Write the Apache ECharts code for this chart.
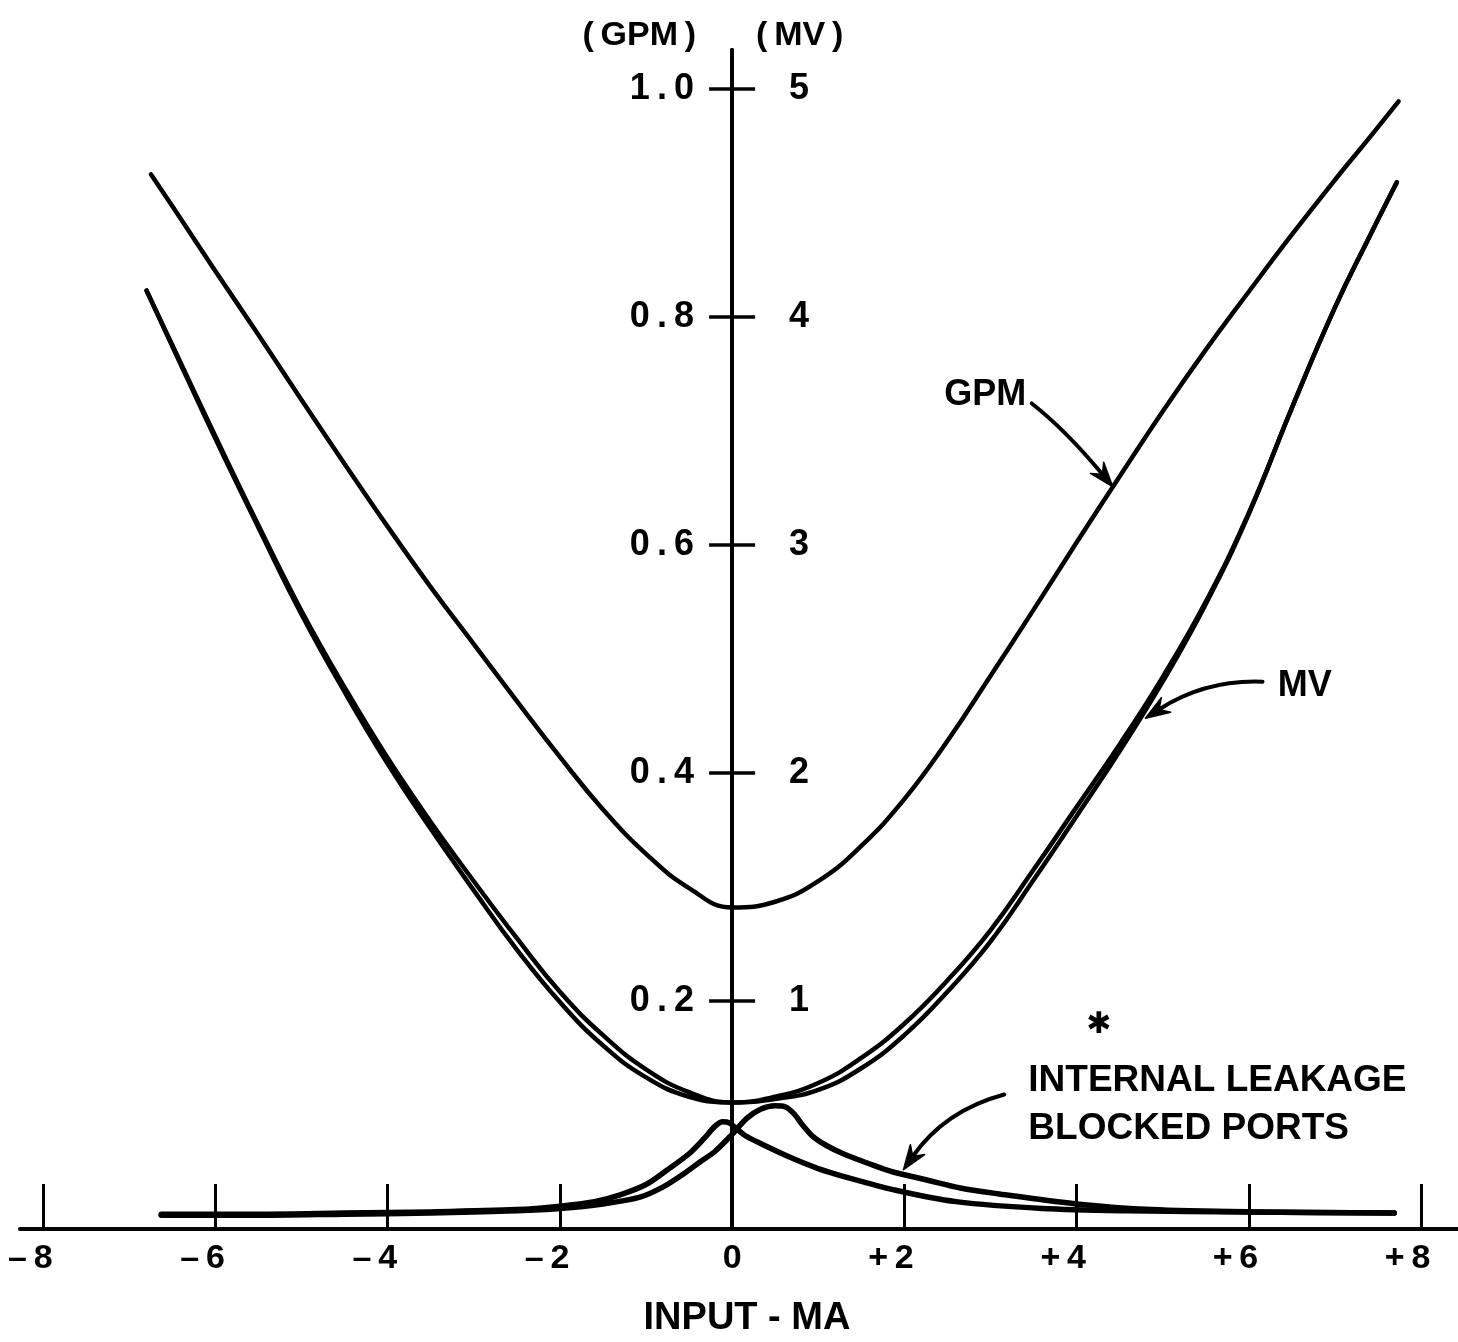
<!DOCTYPE html>
<html>
<head>
<meta charset="utf-8">
<script src="https://cdn.jsdelivr.net/npm/echarts@6/dist/echarts.min.js"></script>
<style>
  html, body { margin: 0; padding: 0; background: #ffffff; }
  #chart { width: 1458px; height: 1342px; }
</style>
</head>
<body>
<div id="chart"></div>
<script>
// ---------------- data ----------------
const xTicks   = [-8, -6, -4, -2, 0, 2, 4, 6, 8];          // INPUT - MA
const gpmTicks = [0.2, 0.4, 0.6, 0.8, 1.0];                // left scale (GPM)
const mvTicks  = [1, 2, 3, 4, 5];                          // right scale (MV)

// GPM curve (GPM)
const gpmX = [-6.75, -6.5, -6.0, -5.5, -5.0, -4.5, -4.0, -3.5, -3.0, -2.5, -2.0, -1.5, -1.0, -0.5, 0, 0.5, 1.0, 1.5, 2.0, 2.5, 3.0, 3.5, 4.0, 4.5, 5.0, 5.5, 6.0, 6.5, 7.0, 7.4, 7.74];
const gpmY = [0.925, 0.897, 0.840, 0.784, 0.727, 0.671, 0.616, 0.563, 0.513, 0.463, 0.414, 0.368, 0.329, 0.299, 0.282, 0.287, 0.305, 0.336, 0.377, 0.428, 0.485, 0.543, 0.602, 0.660, 0.717, 0.771, 0.822, 0.872, 0.920, 0.957, 0.989];

// MV curve (MV) - drawn as two close traces
const mvX = [-6.8, -6.5, -6.0, -5.5, -5.0, -4.5, -4.0, -3.5, -3.0, -2.5, -2.0, -1.5, -1.0, -0.5, 0, 0.5, 1.0, 1.5, 2.0, 2.5, 3.0, 3.5, 4.0, 4.5, 5.0, 5.5, 6.0, 6.5, 7.0, 7.4, 7.72];
const mvUpper = [4.115, 3.875, 3.475, 3.085, 2.71, 2.375, 2.065, 1.785, 1.525, 1.275, 1.04, 0.85, 0.70, 0.60, 0.555, 0.58, 0.64, 0.75, 0.90, 1.09, 1.31, 1.575, 1.85, 2.125, 2.42, 2.75, 3.14, 3.60, 4.04, 4.35, 4.59];
const mvLower = [4.115, 3.87, 3.465, 3.075, 2.695, 2.355, 2.04, 1.755, 1.485, 1.225, 0.995, 0.805, 0.665, 0.58, 0.555, 0.57, 0.61, 0.705, 0.85, 1.04, 1.26, 1.53, 1.81, 2.095, 2.40, 2.74, 3.135, 3.60, 4.04, 4.35, 4.59];

// Internal leakage, blocked ports (GPM) - two traces
const leakAX = [-6.63, -5.5, -4.5, -3.5, -2.5, -2.0, -1.6, -1.3, -1.0, -0.75, -0.5, -0.33, -0.2, -0.11, -0.03, 0.05, 0.15, 0.33, 0.7, 1.0, 1.3, 1.9, 2.6, 3.6, 4.6, 6.0, 7.69];
const leakAY = [0.013, 0.013, 0.014, 0.015, 0.017, 0.020, 0.024, 0.030, 0.039, 0.052, 0.066, 0.079, 0.090, 0.094, 0.093, 0.088, 0.082, 0.075, 0.062, 0.053, 0.046, 0.034, 0.024, 0.018, 0.016, 0.015, 0.014];
const leakBX = [-6.63, -5.5, -4.5, -3.5, -2.5, -2.0, -1.5, -1.07, -0.8, -0.57, -0.37, -0.2, 0.0, 0.17, 0.33, 0.5, 0.62, 0.72, 0.82, 0.94, 1.1, 1.29, 1.6, 1.87, 2.26, 2.65, 3.08, 4.0, 4.87, 6.0, 7.69];
const leakBY = [0.012, 0.012, 0.013, 0.014, 0.016, 0.018, 0.022, 0.028, 0.037, 0.048, 0.059, 0.068, 0.083, 0.097, 0.105, 0.108, 0.107, 0.101, 0.091, 0.081, 0.073, 0.066, 0.057, 0.050, 0.043, 0.036, 0.031, 0.022, 0.017, 0.015, 0.014];

// Annotation anchors in data space (x in MA, y in GPM)
const gpmNote  = { label: [2.94, 0.731], start: [3.48, 0.724], ctrl: [3.87, 0.701], tip: [4.42, 0.651] };
const mvNote   = { label: [6.65, 0.476], start: [6.16, 0.480], ctrl: [5.50, 0.482], tip: [4.80, 0.448] };
const leakNote = { star: [4.26, 0.179], line1: [3.44, 0.130], line2: [3.44, 0.088], start: [3.16, 0.118], ctrl: [2.47, 0.104], tip: [1.99, 0.052] };

// ---------------- chart ----------------
const FONT = '"Liberation Sans", Arial, sans-serif';
const INK = '#000000';
const W = 1458;
const GRID = { left: 20, right: 0, top: 50, bottom: 113 };
const zip = (xs, ys) => xs.map((x, i) => [x, ys[i]]);

const chart = echarts.init(document.getElementById('chart'), null, { renderer: 'canvas' });

const lineSeries = (name, data, yIdx, width, smooth) => ({
  name, type: 'line', data, xAxisIndex: 0, yAxisIndex: yIdx,
  smooth: smooth, symbol: 'none', silent: true,
  lineStyle: { color: INK, width: width, cap: 'round', join: 'round' },
  z: 3
});

const labelFont = { fontFamily: FONT, fontWeight: 'bold', fontSize: 34, color: INK };

chart.setOption({
  animation: false,
  backgroundColor: '#ffffff',
  grid: Object.assign({ containLabel: false, outerBoundsMode: 'none' }, GRID),
  xAxis: {
    type: 'value', min: -8.27, max: 8.43,
    axisLine: { onZero: false, lineStyle: { color: INK, width: 4 } },
    axisTick: { inside: true, length: 45, customValues: xTicks, lineStyle: { color: INK, width: 3 } },
    axisLabel: {
      customValues: xTicks, margin: 13,
      formatter: function (v) {
        if (v === 0) return '{d|0}';
        const sign = v < 0 ? '\u2013\u2009' : '+\u2009';
        return '{s|' + sign + '}{d|' + Math.abs(v) + '}{h|' + sign + '}';
      },
      rich: {
        s: Object.assign({}, labelFont),
        d: Object.assign({}, labelFont),
        h: Object.assign({}, labelFont, { color: 'rgba(0,0,0,0)' })
      }
    },
    splitLine: { show: false },
    name: 'INPUT - MA', nameLocation: 'middle', nameGap: 90,
    nameTextStyle: { fontFamily: FONT, fontWeight: 'bold', fontSize: 38, color: INK, verticalAlign: 'middle', padding: [0, 0, 0, 16] }
  },
  yAxis: [
    {
      type: 'value', position: 'left', min: 0, max: 1.034, offset: 0,
      axisLine: { onZero: false, lineStyle: { color: INK, width: 4 } },
      axisTick: { customValues: gpmTicks, length: 23, lineStyle: { color: INK, width: 3.5 } },
      axisLabel: {
        customValues: gpmTicks, margin: 38,
        formatter: v => { const s = v.toFixed(1); return s[0] + '\u2009.\u2009' + s[2]; },
        fontFamily: FONT, fontWeight: 'bold', fontSize: 36, color: INK
      },
      splitLine: { show: false },
      name: '(\u2009GPM\u2009)', nameLocation: 'end', nameGap: 14,
      nameTextStyle: { fontFamily: FONT, fontWeight: 'bold', fontSize: 34, color: INK, align: 'right', verticalAlign: 'middle', padding: [0, 36, 0, 0] }
    },
    {
      type: 'value', position: 'right', min: 0, max: 5.17, offset: 0,
      axisLine: { onZero: false, lineStyle: { color: INK, width: 4 } },
      axisTick: { customValues: mvTicks, length: 23, lineStyle: { color: INK, width: 3.5 } },
      axisLabel: {
        customValues: mvTicks, margin: 57,
        fontFamily: FONT, fontWeight: 'bold', fontSize: 36, color: INK
      },
      splitLine: { show: false },
      name: '(\u2009MV\u2009)', nameLocation: 'end', nameGap: 14,
      nameTextStyle: { fontFamily: FONT, fontWeight: 'bold', fontSize: 34, color: INK, align: 'left', verticalAlign: 'middle', padding: [0, 0, 0, 24] }
    }
  ],
  series: [
    lineSeries('GPM', zip(gpmX, gpmY), 0, 4.5, 0.45),
    lineSeries('MV', zip(mvX, mvUpper), 1, 4.5, 0.45),
    lineSeries('MV (trace 2)', zip(mvX, mvLower), 1, 4.5, 0.45),
    lineSeries('Internal leakage A', zip(leakAX, leakAY), 0, 5.5, 0.3),
    lineSeries('Internal leakage B', zip(leakBX, leakBY), 0, 5.5, 0.3)
  ]
});

// move both vertical scales onto x = 0 (labels follow the axis line)
const px = p => chart.convertToPixel({ gridIndex: 0 }, p);
const zeroX = px([0, 0])[0];
chart.setOption({
  yAxis: [
    { offset: -(zeroX - GRID.left) },
    { offset: -((W - GRID.right) - zeroX) }
  ]
});

// ---------------- annotations ----------------
function arrow(note) {
  const s = px(note.start), c = px(note.ctrl), t = px(note.tip);
  const a = Math.atan2(t[1] - c[1], t[0] - c[0]);
  const len = 26, ha = 0.34;
  const p1 = [t[0] - len * Math.cos(a - ha), t[1] - len * Math.sin(a - ha)];
  const p2 = [t[0] - len * Math.cos(a + ha), t[1] - len * Math.sin(a + ha)];
  const back = [t[0] - len * 0.62 * Math.cos(a), t[1] - len * 0.62 * Math.sin(a)];
  return [
    { type: 'bezierCurve', silent: true, z: 10,
      shape: { x1: s[0], y1: s[1], cpx1: c[0], cpy1: c[1], x2: back[0], y2: back[1] },
      style: { stroke: INK, lineWidth: 4, fill: null, lineCap: 'round' } },
    { type: 'polygon', silent: true, z: 10,
      shape: { points: [t, p1, back, p2] },
      style: { fill: INK, stroke: INK, lineWidth: 1.5, lineJoin: 'round' } }
  ];
}

function text(p, str, size, align, family) {
  const q = px(p);
  return { type: 'text', silent: true, z: 10, x: q[0], y: q[1],
    style: { text: str, font: 'bold ' + size + 'px ' + (family || FONT), fill: INK,
             align: align, verticalAlign: 'middle', textAlign: align, textVerticalAlign: 'middle' } };
}

chart.setOption({
  graphic: [].concat(
    [text(gpmNote.label, 'GPM', 36, 'center')],
    arrow(gpmNote),
    [text(mvNote.label, 'MV', 36, 'center')],
    arrow(mvNote),
    [text(leakNote.star, '\u2731', 30, 'center', '"DejaVu Sans", sans-serif'),
     text(leakNote.line1, 'INTERNAL LEAKAGE', 37, 'left'),
     text(leakNote.line2, 'BLOCKED PORTS', 37, 'left')],
    arrow(leakNote)
  )
});
</script>
</body>
</html>
